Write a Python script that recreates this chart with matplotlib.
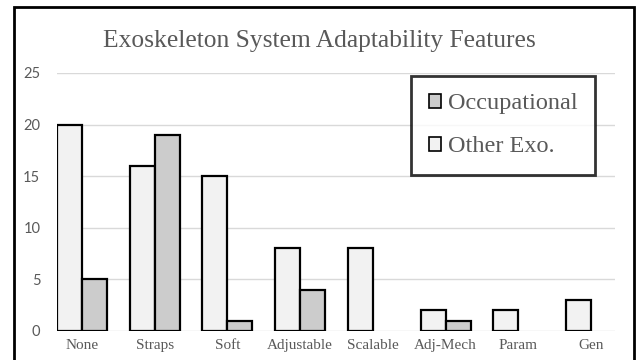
import matplotlib.pyplot as plt
import numpy as np
from matplotlib.patches import Rectangle, Patch

categories = ['None', 'Straps', 'Soft', 'Adjustable', 'Scalable', 'Adj-Mech', 'Param', 'Gen']
other_exo = [20, 16, 15, 8, 8, 2, 2, 3]
occupational = [5, 19, 1, 4, 0, 1, 0, 0]
yticks = [0, 5, 10, 15, 20, 25]

light = '#f2f2f2'
dark = '#cccccc'
serif = ['Liberation Serif', 'DejaVu Serif']

fig = plt.figure(figsize=(6.38, 3.6), dpi=100)
ax = fig.add_axes([57 / 638, 1 - 331 / 360, 558 / 638, 258 / 360])

x = np.arange(len(categories))
w = 0.344
ax.bar(x - w / 2, other_exo, w, color=light, edgecolor='black', linewidth=1.6, zorder=3)
occ = [v if v > 0 else np.nan for v in occupational]
ax.bar(x + w / 2, occ, w, color=dark, edgecolor='black', linewidth=1.6, zorder=3)

ax.set_xlim(-0.344, 7.33)
ax.set_ylim(0, 25)
ax.set_yticks(yticks)
ax.set_xticks(x)
ax.set_xticklabels(categories, fontfamily=serif, fontsize=11, color='#595959')
for lab in ax.get_yticklabels():
    lab.set_fontfamily(['Lato', 'DejaVu Sans'])
    lab.set_fontsize(10.5)
    lab.set_color('#595959')
ax.tick_params(axis='both', length=0)
ax.tick_params(axis='y', pad=12)
ax.tick_params(axis='x', pad=6)
ax.grid(axis='y', color='#d9d9d9', linewidth=1, zorder=0)
for s in ax.spines.values():
    s.set_visible(False)

fig.text(0.5, 1 - 47 / 360, 'Exoskeleton System Adaptability Features',
         ha='center', va='baseline', fontfamily=serif, fontsize=18.4, color='#595959')

handles = [Patch(facecolor=dark, edgecolor='black', linewidth=1.2, label='Occupational'),
           Patch(facecolor=light, edgecolor='black', linewidth=1.2, label='Other Exo.')]
leg = fig.legend(handles=handles, loc='upper left', bbox_to_anchor=(411 / 638, 1 - 76 / 360),
                 prop={'family': serif, 'size': 17.5}, frameon=True, fancybox=False,
                 edgecolor='black', handlelength=0.5, handleheight=0.5,
                 handletextpad=0.3, labelspacing=0.9, borderpad=0.72,
                 borderaxespad=0)
leg.get_frame().set_linewidth(2)
for t in leg.get_texts():
    t.set_color('#595959')

# outer chart border
fig.patches.append(Rectangle((14 / 638, -0.1), 620 / 638, 1.1 - 7 / 360,
                             transform=fig.transFigure, fill=False,
                             edgecolor='black', linewidth=2))

fig.savefig('out.png', dpi=100)
